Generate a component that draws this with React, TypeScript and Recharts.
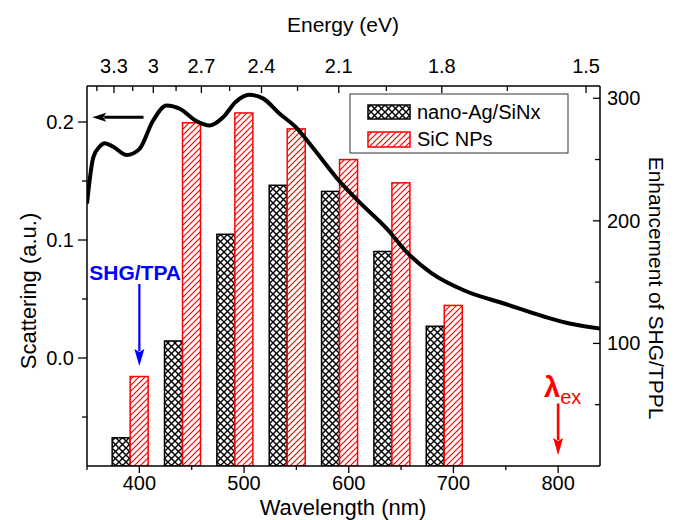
import React from 'react'
import { ComposedChart, Bar, Line, XAxis, YAxis, ReferenceLine, ReferenceDot } from 'recharts'

const FONT = '"Liberation Sans", Arial, Helvetica, sans-serif'

// scattering spectrum (left axis)
const curveWavelength = [350, 356, 362, 367, 375, 388, 400, 413, 426, 439, 454, 467, 480, 492, 505, 518, 534, 549, 565, 590, 608, 638, 654, 679, 711, 749, 787, 812, 840]
const curveScattering = [0.131, 0.170, 0.179, 0.182, 0.179, 0.172, 0.177, 0.201, 0.214, 0.211, 0.201, 0.197, 0.204, 0.217, 0.223, 0.220, 0.207, 0.196, 0.179, 0.151, 0.134, 0.108, 0.091, 0.072, 0.057, 0.046, 0.035, 0.029, 0.025]

// enhancement bars (right axis)
const barWavelength = [400, 450, 500, 550, 600, 650, 700]
const agSiNx = [23, 102, 189, 229, 224, 175, 114]
const sicNPs = [73, 280, 288, 275, 250, 231, 131]

// axis ticks
const wavelengthTicks = [350, 400, 450, 500, 550, 600, 650, 700, 750, 800]
const energyMajor = [3.3, 3, 2.7, 2.4, 2.1, 1.8, 1.5]
const energyMinor = [3.45, 3.15, 2.85, 2.55, 2.25, 1.95, 1.65]
const scatterTicks = [-0.05, 0, 0.05, 0.1, 0.15, 0.2]
const enhanceTicks = [50, 100, 150, 200, 250, 300]

const barData = barWavelength.map((wl, i) => ({ wl, ag: agSiNx[i], sic: sicNPs[i] }))
const curveData = curveWavelength.map((wl, i) => ({ wl, s: curveScattering[i] }))
const energyTicks = [...energyMajor, ...energyMinor].map((e) => 1240 / e).sort((a, b) => a - b)

const BAR = 18
const tickText = { fontFamily: FONT, fontSize: 20, fill: '#000' }

function BottomTick({ x, y, payload }: any) {
  const major = payload.value % 100 === 0
  return (
    <g>
      <line x1={x} y1={y} x2={x} y2={y + (major ? 7 : 4)} stroke="#000" strokeWidth={1.3} />
      {major && payload.value !== 350 && (
        <text x={x} y={y + 24} textAnchor="middle" {...tickText}>{payload.value}</text>
      )}
    </g>
  )
}

function TopTick({ x, y, payload }: any) {
  const e = Number((1240 / payload.value).toFixed(2))
  const major = energyMajor.includes(e)
  return (
    <g>
      <line x1={x} y1={y} x2={x} y2={y + (major ? 7 : 5)} stroke="#000" strokeWidth={1.3} />
      {major && (
        <text x={x} y={y - 13} textAnchor="middle" {...tickText}>{String(e)}</text>
      )}
    </g>
  )
}

function LeftTick({ x, y, payload }: any) {
  const v = payload.value
  const major = Math.abs(v * 10 - Math.round(v * 10)) < 1e-6
  return (
    <g>
      <line x1={x - (major ? 9 : 5)} y1={y} x2={x} y2={y} stroke="#000" strokeWidth={1.3} />
      {major && (
        <text x={x - 13} y={y + 7} textAnchor="end" {...tickText}>{v.toFixed(1)}</text>
      )}
    </g>
  )
}

function RightTick({ x, y, payload }: any) {
  const major = payload.value % 100 === 0
  return (
    <g>
      <line x1={x - (major ? 7 : 5)} y1={y} x2={x} y2={y} stroke="#000" strokeWidth={1.3} />
      {major && (
        <text x={x + 7} y={y + 7} textAnchor="start" {...tickText}>{payload.value}</text>
      )}
    </g>
  )
}

// red bar sits on the wavelength, black one just left of it
const hatchedBar = (fill: string, stroke: string) => (p: any) => (
  <rect
    x={p.x - p.width / 2}
    y={p.y}
    width={p.width}
    height={p.height}
    fill={fill}
    stroke={stroke}
    strokeWidth={1.5}
  />
)

const arrow = (color: string, w: number, headL: number, headW: number) => (p: any) => {
  const { x1, y1, x2, y2 } = p
  const dx = x2 - x1
  const dy = y2 - y1
  const len = Math.hypot(dx, dy) || 1
  const ux = dx / len
  const uy = dy / len
  const bx = x2 - ux * headL
  const by = y2 - uy * headL
  const px = (-uy * headW) / 2
  const py = (ux * headW) / 2
  return (
    <g>
      <line x1={x1} y1={y1} x2={bx + ux * 2} y2={by + uy * 2} stroke={color} strokeWidth={w} />
      <polygon points={`${x2},${y2} ${bx + px},${by + py} ${bx + ux * 3},${by + uy * 3} ${bx - px},${by - py}`} fill={color} />
    </g>
  )
}

const axisLine = { stroke: '#000', strokeWidth: 1.5 }

export default function App() {
  return (
    <div style={{ position: 'absolute', left: 0, top: 0, background: '#fff' }}>
      <ComposedChart
        width={675}
        height={520}
        data={barData}
        margin={{ top: 0, right: 0, bottom: 0, left: 0 }}
        barGap={0}
      >
        <defs>
          <pattern id="xhatch" patternUnits="userSpaceOnUse" width={7} height={7}>
            <rect width={7} height={7} fill="#fff" />
            <path d="M0,0 L7,7 M7,0 L0,7" stroke="#000" strokeWidth={1.4} />
          </pattern>
          <pattern id="rhatch" patternUnits="userSpaceOnUse" width={6} height={6}>
            <rect width={6} height={6} fill="#fff" />
            <path d="M-1,1 L1,-1 M0,6 L6,0 M5,7 L7,5" stroke="#ff0000" strokeWidth={1.2} />
          </pattern>
        </defs>

        <XAxis
          xAxisId="bottom"
          dataKey="wl"
          type="number"
          domain={[350, 840]}
          allowDataOverflow
          ticks={wavelengthTicks}
          interval={0}
          height={54}
          tickSize={0}
          tickMargin={0}
          tickLine={false}
          axisLine={axisLine}
          tick={<BottomTick />}
        />
        <XAxis
          xAxisId="top"
          orientation="top"
          dataKey="wl"
          type="number"
          domain={[350, 840]}
          allowDataOverflow
          ticks={energyTicks}
          interval={0}
          height={86}
          tickSize={0}
          tickMargin={0}
          tickLine={false}
          axisLine={axisLine}
          tick={<TopTick />}
        />
        <YAxis
          yAxisId="left"
          type="number"
          domain={[-0.0915, 0.2305]}
          allowDataOverflow
          ticks={scatterTicks}
          interval={0}
          width={87}
          tickSize={0}
          tickMargin={0}
          tickLine={false}
          axisLine={axisLine}
          tick={<LeftTick />}
        />
        <YAxis
          yAxisId="right"
          orientation="right"
          type="number"
          domain={[0, 310]}
          allowDataOverflow
          ticks={enhanceTicks}
          interval={0}
          width={75}
          tickSize={0}
          tickMargin={0}
          tickLine={false}
          axisLine={axisLine}
          tick={<RightTick />}
        />

        <Bar
          xAxisId="bottom"
          yAxisId="right"
          dataKey="ag"
          name="nano-Ag/SiNx"
          barSize={BAR}
          isAnimationActive={false}
          shape={hatchedBar('url(#xhatch)', '#000')}
        />
        <Bar
          xAxisId="bottom"
          yAxisId="right"
          dataKey="sic"
          name="SiC NPs"
          barSize={BAR}
          isAnimationActive={false}
          shape={hatchedBar('url(#rhatch)', '#ff0000')}
        />
        {/* curve on the top axis (same wavelength scale) so it does not narrow the bar band */}
        <Line
          xAxisId="top"
          yAxisId="left"
          data={curveData}
          dataKey="s"
          type="monotone"
          stroke="#000"
          strokeWidth={4}
          dot={false}
          isAnimationActive={false}
        />

        <ReferenceLine
          xAxisId="bottom"
          yAxisId="left"
          segment={[{ x: 404, y: 0.204 }, { x: 355, y: 0.204 }]}
          ifOverflow="visible"
          shape={arrow('#000', 3, 14, 9)}
        />
        <ReferenceLine
          xAxisId="bottom"
          yAxisId="left"
          segment={[{ x: 400, y: 0.0627 }, { x: 400, y: -0.0068 }]}
          ifOverflow="visible"
          shape={arrow('#0000ff', 2.2, 17, 10)}
        />
        <ReferenceLine
          xAxisId="bottom"
          yAxisId="right"
          segment={[{ x: 800, y: 51 }, { x: 800, y: 9 }]}
          ifOverflow="visible"
          shape={arrow('#ff0000', 2.6, 17, 10)}
        />
        <ReferenceDot
          xAxisId="bottom"
          yAxisId="left"
          x={396}
          y={0.066}
          ifOverflow="visible"
          shape={(p: any) => (
            <text x={p.cx} y={p.cy} textAnchor="middle" fontFamily={FONT} fontSize={21} fontWeight="bold" fill="#0000ff">
              SHG/TPA
            </text>
          )}
        />
        <ReferenceDot
          xAxisId="bottom"
          yAxisId="right"
          x={800}
          y={56}
          ifOverflow="visible"
          shape={(p: any) => (
            <text x={p.cx - 14} y={p.cy} fontFamily={FONT} fill="#ff0000">
              <tspan fontSize={29} fontWeight="bold">λ</tspan>
              <tspan fontSize={20} dy={7}>ex</tspan>
            </text>
          )}
        />

        {/* legend */}
        <g>
          <rect x={350} y={94} width={218} height={59} fill="#fff" stroke="#333" strokeWidth={1} />
          <rect x={368} y={105} width={42} height={14} fill="url(#xhatch)" stroke="#000" strokeWidth={1.5} />
          <text x={417} y={119} fontFamily={FONT} fontSize={20} fill="#000">nano-Ag/SiNx</text>
          <rect x={368} y={132} width={42} height={15} fill="url(#rhatch)" stroke="#ff0000" strokeWidth={1.5} />
          <text x={417} y={146} fontFamily={FONT} fontSize={20} fill="#000">SiC NPs</text>
        </g>

        {/* axis titles */}
        <text x={343} y={32} textAnchor="middle" fontFamily={FONT} fontSize={21} fill="#000">Energy (eV)</text>
        <text x={343} y={515} textAnchor="middle" fontFamily={FONT} fontSize={22} fill="#000">Wavelength (nm)</text>
        <text transform="translate(36,291) rotate(-90)" textAnchor="middle" fontFamily={FONT} fontSize={22} fill="#000">Scattering (a.u.)</text>
        <text transform="translate(649,288) rotate(90)" textAnchor="middle" fontFamily={FONT} fontSize={21} fill="#000">Enhancement of SHG/TPPL</text>
      </ComposedChart>
    </div>
  )
}
